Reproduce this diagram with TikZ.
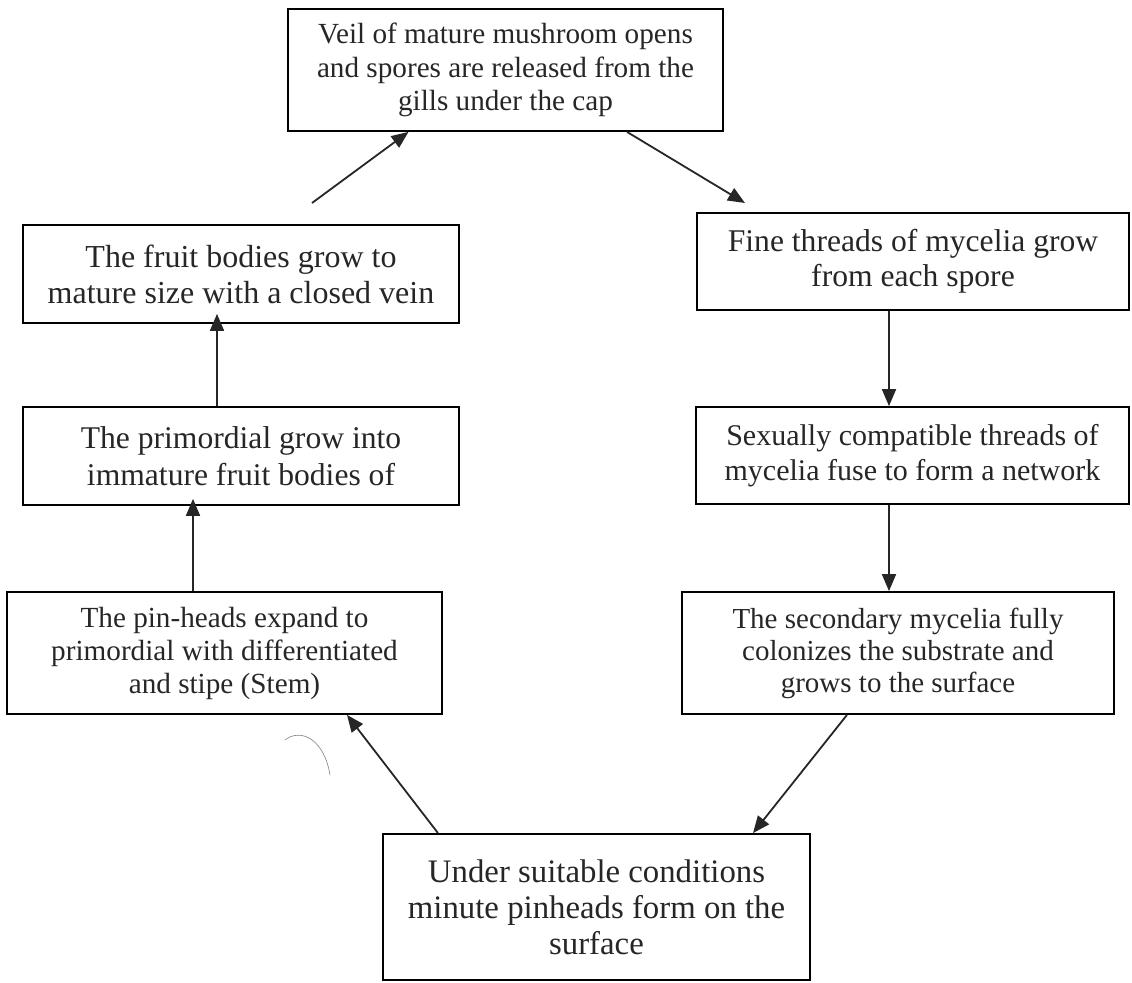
\documentclass[tikz,border=0pt]{standalone}
\usepackage{fontspec}
\setmainfont{Liberation Serif}
\usetikzlibrary{arrows.meta,calc}

\begin{document}
\begin{tikzpicture}[x=0.5pt,y=-0.5pt,>={Triangle[length=8.5pt,width=7pt]}]

        % Styles
        \tikzset{
          stage/.style={draw,line width=0.9pt,align=center,inner sep=0pt,
                        text=black!85},
          flow/.style={->,line width=0.9pt,black!85}
        }

        % fixed frame of the page
        \useasboundingbox (0,0) rectangle (1132,982);

        %-------------------------------
        % Top of the cycle
        %-------------------------------
        \node[stage,minimum width=217.5pt,minimum height=61pt,
              font=\fontsize{14.6}{16.75}\selectfont] (veil) at (505.5,70)
        {Veil of mature mushroom opens\\and spores are released from the\\gills under the cap};

        %-------------------------------
        % Right column (going down)
        %-------------------------------
        \node[stage,minimum width=216pt,minimum height=48.5pt,
              font=\fontsize{15.8}{17.5}\selectfont] (fine) at (913,261.5)
        {Fine threads of mycelia grow\\from each spore};

        \node[stage,minimum width=216.5pt,minimum height=48.5pt,
              font=\fontsize{15}{17.5}\selectfont] (sexual) at (912.5,455.5)
        {Sexually compatible threads of\\mycelia fuse to form a network};

        \node[stage,minimum width=216pt,minimum height=61pt,
              font=\fontsize{14.5}{16}\selectfont] (colonize) at (898,653)
        {The secondary mycelia fully\\colonizes the substrate and\\grows to the surface};

        %-------------------------------
        % Bottom of the cycle
        %-------------------------------
        \node[stage,minimum width=213.5pt,minimum height=73pt,
              font=\fontsize{16.4}{18}\selectfont] (pinform) at (596.5,907)
        {Under suitable conditions\\minute pinheads form on the\\surface};

        %-------------------------------
        % Left column (going up)
        %-------------------------------
        \node[stage,minimum width=217.5pt,minimum height=61pt,
              font=\fontsize{14.6}{16.5}\selectfont] (pinheads) at (224.5,653)
        {The pin-heads expand to\\primordial with differentiated\\and stipe (Stem)};

        \node[stage,minimum width=218pt,minimum height=49pt,
              font=\fontsize{15.8}{18.5}\selectfont] (primordial) at (241,456)
        {The primordial grow into\\immature fruit bodies of};

        \node[stage,minimum width=218pt,minimum height=49pt,
              font=\fontsize{16}{18}\selectfont] (fruit) at (241,274)
        {The fruit bodies grow to\\mature size with a closed vein};

        % loose arrow ends
        \coordinate (fruitout) at (312,203);
        \coordinate (finein) at (745,203);

        %-------------------------------
        % Arrows round the cycle
        %-------------------------------
        \draw[flow] (fruitout) -- ($(veil.south)+(-97,0)$);
        \draw[flow] ($(veil.south)+(121.5,0)$) -- (finein);

        \draw[flow] ($(fine.south)+(-24,0)$) -- ($(sexual.north)+(-23.5,0)$);
        \draw[flow] ($(sexual.south)+(-23.5,0)$) -- ($(colonize.north)+(-9,0)$);
        \draw[flow] ($(colonize.south)+(-51,0)$) -- ($(pinform.north)+(156.5,0)$);

        \draw[flow] ($(pinform.north)+(-158.5,0)$) -- ($(pinheads.south)+(122.5,0)$);
        \draw[flow,shorten >=-3.5pt] ($(pinheads.north)+(-31.5,0)$) -- ($(primordial.south)+(-48,0)$);
        \draw[flow,shorten >=-5pt] ($(primordial.north)+(-24,0)$) -- ($(fruit.south)+(-24,0)$);

        % pen mark under the pin-heads box
        \draw[gray,line width=0.3pt] (285,740) .. controls (300,728) and (324,738) .. (330,775);

\end{tikzpicture}
\end{document}
